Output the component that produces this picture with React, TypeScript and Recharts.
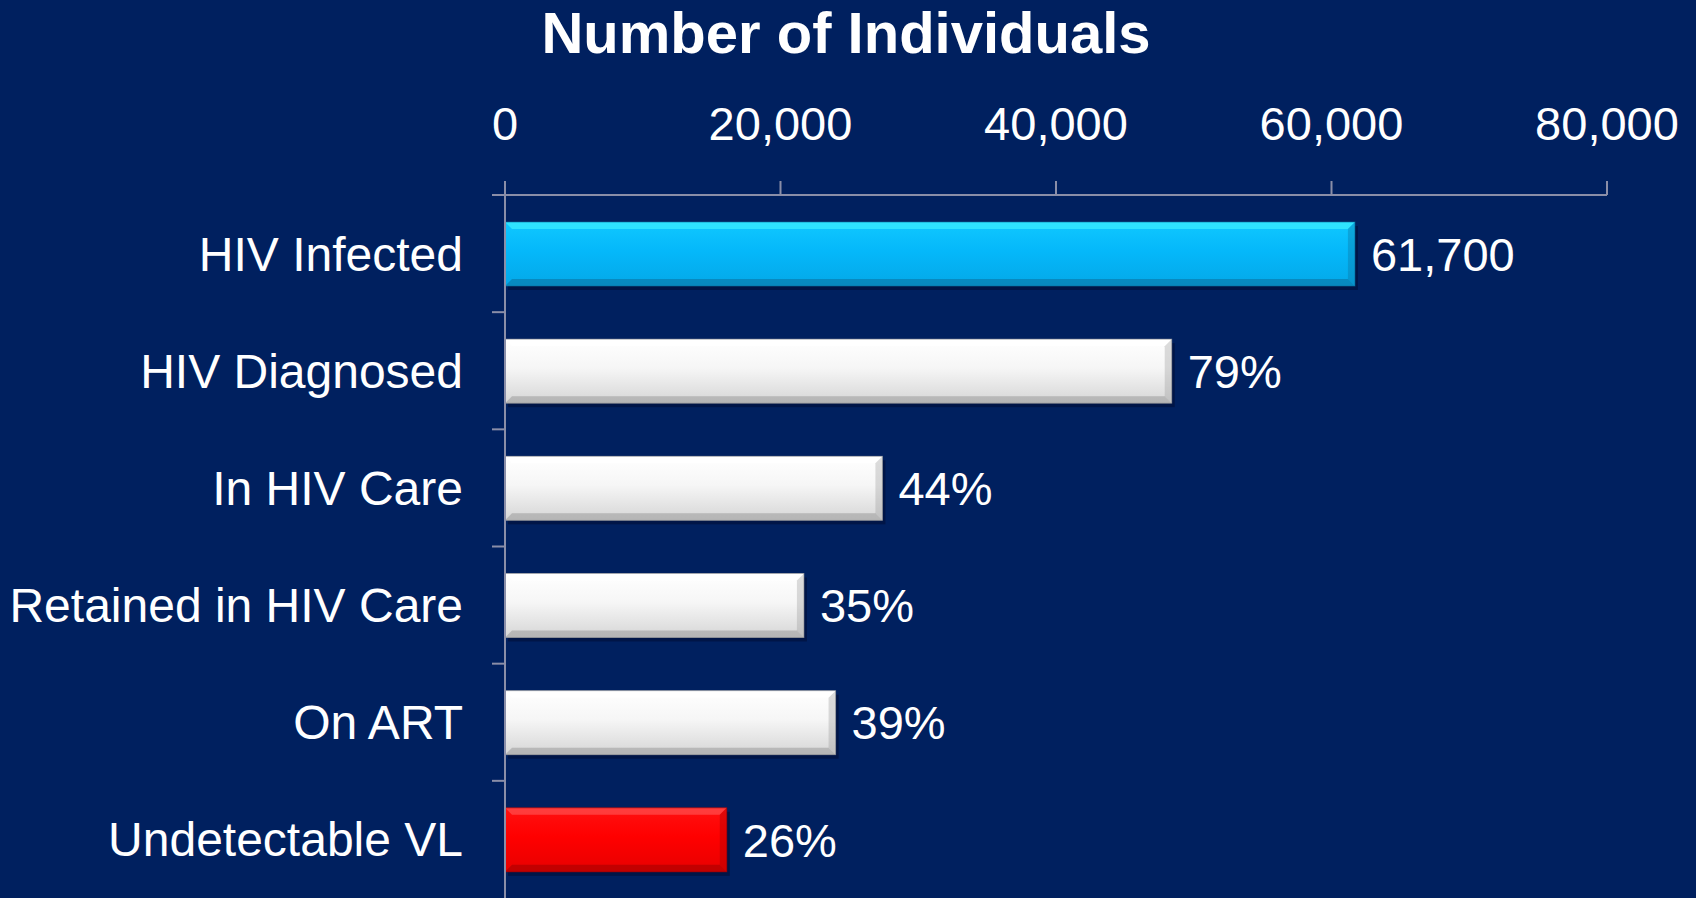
import { BarChart, Bar, XAxis, YAxis, LabelList } from "recharts";

const categories = [
  "HIV Infected",
  "HIV Diagnosed",
  "In HIV Care",
  "Retained in HIV Care",
  "On ART",
  "Undetectable VL",
];
const individuals = [61700, 48400, 27400, 21700, 24000, 16100];
const barLabels = ["61,700", "79%", "44%", "35%", "39%", "26%"];
const tones = ["blue", "white", "white", "white", "white", "red"];
const xTicks = [0, 20000, 40000, 60000, 80000];

const data = categories.map((name, i) => ({
  name,
  value: individuals[i],
  label: barLabels[i],
  tone: tones[i],
}));

const W = 1696;
const H = 898;
const TOP = 195;
const BAND = (H - TOP) / categories.length;
const FONT = "'Liberation Sans', Arial, sans-serif";
const AXIS = "#8a8ea8";

const PALETTE: Record<string, { top: string; mid: string; bot: string; hi: string; lo: string }> = {
  blue: { top: "#10c8ff", mid: "#05b8fa", bot: "#04a8e8", hi: "#3df0ff", lo: "#0b6f9c" },
  white: { top: "#ffffff", mid: "#f6f6f6", bot: "#d6d6d6", hi: "#ffffff", lo: "#9a9a9a" },
  red: { top: "#ff1010", mid: "#ff0000", bot: "#e80000", hi: "#ff5050", lo: "#a00000" },
};

const BevelBar = (props: any) => {
  const { x, y, width, height, payload, index } = props;
  const c = PALETTE[payload.tone];
  const id = `bar-grad-${index}`;
  const b = 7;
  return (
    <g>
      <defs>
        <linearGradient id={id} x1="0" y1="0" x2="0" y2="1">
          <stop offset="0%" stopColor={c.top} />
          <stop offset="45%" stopColor={c.mid} />
          <stop offset="100%" stopColor={c.bot} />
        </linearGradient>
      </defs>
      <rect x={x + 3} y={y + 4} width={width} height={height} fill="#000c33" opacity={0.55} />
      <rect x={x} y={y} width={width} height={height} fill={`url(#${id})`} />
      <polygon
        points={`${x},${y} ${x + width},${y} ${x + width - b},${y + b} ${x + b},${y + b}`}
        fill={c.hi}
        opacity={0.7}
      />
      <polygon
        points={`${x},${y + height} ${x + width},${y + height} ${x + width - b},${y + height - b} ${x + b},${y + height - b}`}
        fill={c.lo}
        opacity={0.55}
      />
      <polygon
        points={`${x + width},${y} ${x + width},${y + height} ${x + width - b},${y + height - b} ${x + width - b},${y + b}`}
        fill={c.lo}
        opacity={0.35}
      />
      <rect x={x} y={y} width={width} height={height} fill="none" stroke={c.lo} strokeWidth={1} opacity={0.6} />
    </g>
  );
};

const CategoryTick = (props: any) => {
  const { x, y, payload } = props;
  return (
    <g>
      <line x1={505 - 13} x2={505} y1={y - BAND / 2} y2={y - BAND / 2} stroke={AXIS} strokeWidth={2} />
      <text
        x={x - 34}
        y={y}
        dy={17}
        textAnchor="end"
        fill="#ffffff"
        fontSize={48}
        fontFamily={FONT}
      >
        {payload.value}
      </text>
    </g>
  );
};

export default function App() {
  return (
    <div style={{ position: "relative", width: W, height: H, background: "#00205f", overflow: "hidden" }}>
      <style>{`body{margin:0}`}</style>
      <div
        style={{
          position: "absolute",
          left: 0,
          top: 4,
          width: 1692,
          textAlign: "center",
          color: "#ffffff",
          fontFamily: FONT,
          fontWeight: "bold",
          fontSize: 58,
          lineHeight: "58px",
        }}
      >
        Number of Individuals
      </div>
      <BarChart
        width={W}
        height={H}
        data={data}
        layout="vertical"
        margin={{ top: 0, right: 89, bottom: 0, left: 0 }}
        barSize={64}
      >
        <XAxis
          type="number"
          orientation="top"
          domain={[0, 80000]}
          ticks={xTicks}
          height={TOP}
          tickSize={14}
          tickMargin={41}
          interval={0}
          stroke={AXIS}
          strokeWidth={2}
          tickFormatter={(v: number) => v.toLocaleString("en-US")}
          tick={{ fill: "#ffffff", fontSize: 47, fontFamily: FONT }}
        />
        <YAxis
          type="category"
          dataKey="name"
          width={505}
          stroke={AXIS}
          strokeWidth={2}
          tickLine={false}
          interval={0}
          tick={<CategoryTick />}
        />
        <Bar dataKey="value" shape={<BevelBar />} isAnimationActive={false}>
          <LabelList
            dataKey="label"
            position="right"
            offset={16}
            fill="#ffffff"
            fontSize={47}
            fontFamily={FONT}
          />
        </Bar>
      </BarChart>
    </div>
  );
}
